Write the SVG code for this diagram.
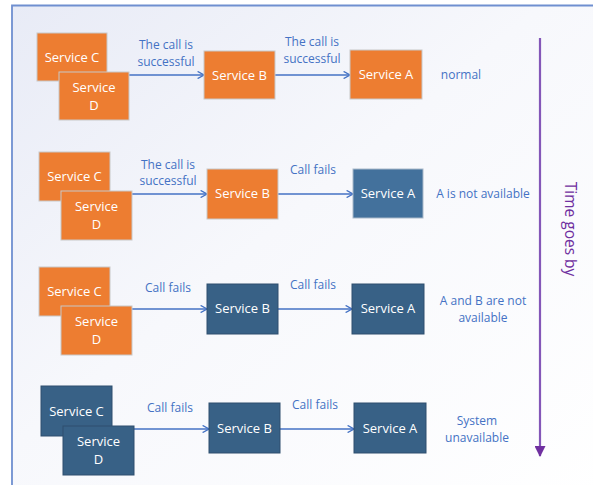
<svg xmlns="http://www.w3.org/2000/svg" width="593" height="485" viewBox="0 0 593 485">
  <defs>
    <linearGradient id="bg" x1="0" y1="0" x2="1" y2="1">
      <stop offset="0" stop-color="#e8ebf6"/>
      <stop offset="0.45" stop-color="#f7f8fc"/>
      <stop offset="1" stop-color="#ffffff"/>
    </linearGradient>
    <marker id="chev" viewBox="0 0 10 10" refX="9" refY="5" markerWidth="8" markerHeight="8" markerUnits="userSpaceOnUse" orient="auto">
      <path d="M1,0.5 L9,5 L1,9.5" fill="none" stroke="#4472c4" stroke-width="1.6"/>
    </marker>
    <marker id="tri" viewBox="0 0 10 10" refX="9" refY="5" markerWidth="16" markerHeight="11" markerUnits="userSpaceOnUse" orient="auto">
      <path d="M0,0 L10,5 L0,10 Z" fill="#7030a0"/>
    </marker>
  </defs>
  <style>
    .box rect { stroke: #c8c8c8; stroke-width: 1; }
    .up rect { fill: #ed7d31; }
    .down rect { fill: #386186; stroke: #2e4f6e; }
    .downl rect { fill: #43719c; stroke: #a9b9c9; }
    .box text { fill: #ffffff; font-family: "Open Sans", "Liberation Sans", sans-serif; font-size: 13px; text-anchor: middle; }
    .lbl { fill: #4472c4; font-family: "Open Sans", "Liberation Sans", sans-serif; font-size: 12px; text-anchor: middle; }
    .conn line { stroke: #4472c4; stroke-width: 1.5; marker-end: url(#chev); }
  </style>

  <!-- frame -->
  <rect x="12" y="5.5" width="590" height="490" fill="url(#bg)"/>
  <path d="M12,485 L12,5.5 L593,5.5" fill="none" stroke="#6f8fd0" stroke-width="1.8"/>

  <!-- time axis -->
  <g id="timeline">
    <line x1="540" y1="38" x2="540" y2="456" stroke="#8457b8" stroke-width="2.2" marker-end="url(#tri)"/>
    <text transform="translate(565,229) rotate(90)" fill="#7030a0" font-family="Open Sans, Liberation Sans, sans-serif" font-size="15.5" text-anchor="middle">Time goes by</text>
  </g>

  <!-- connectors -->
  <g id="connectors" class="conn">
    <line x1="129" y1="75" x2="204" y2="75"/>
    <line x1="275" y1="75" x2="350" y2="75"/>
    <line x1="132" y1="194" x2="207" y2="194"/>
    <line x1="278" y1="194" x2="353" y2="194"/>
    <line x1="132" y1="309" x2="207" y2="309"/>
    <line x1="278" y1="309" x2="352" y2="309"/>
    <line x1="134" y1="429" x2="209" y2="429"/>
    <line x1="280" y1="429" x2="354" y2="429"/>
  </g>

  <!-- row 1: normal -->
  <g id="r1-c" class="box up"><rect x="37" y="33" width="70" height="48"/><text x="72" y="62">Service C</text></g>
  <g id="r1-d" class="box up"><rect x="59" y="72" width="70" height="48"/><text x="94" y="92">Service</text><text x="94" y="110">D</text></g>
  <g id="r1-b" class="box up"><rect x="204" y="51" width="71" height="48"/><text x="239.5" y="80">Service B</text></g>
  <g id="r1-a" class="box up"><rect x="350" y="50" width="72" height="49"/><text x="386" y="79">Service A</text></g>
  <g id="r1-labels">
    <text class="lbl" x="166" y="49">The call is</text>
    <text class="lbl" x="166" y="66">successful</text>
    <text class="lbl" x="312" y="46">The call is</text>
    <text class="lbl" x="312" y="63">successful</text>
    <text class="lbl" x="461" y="79">normal</text>
  </g>

  <!-- row 2: A is not available -->
  <g id="r2-c" class="box up"><rect x="39" y="152" width="71" height="49"/><text x="74.5" y="181">Service C</text></g>
  <g id="r2-d" class="box up"><rect x="61" y="191" width="71" height="49"/><text x="96.5" y="211">Service</text><text x="96.5" y="229">D</text></g>
  <g id="r2-b" class="box up"><rect x="207" y="169" width="71" height="50"/><text x="242.5" y="198">Service B</text></g>
  <g id="r2-a" class="box downl"><rect x="353" y="169" width="70" height="49"/><text x="388" y="198">Service A</text></g>
  <g id="r2-labels">
    <text class="lbl" x="168" y="169">The call is</text>
    <text class="lbl" x="168" y="185">successful</text>
    <text class="lbl" x="313" y="174">Call fails</text>
    <text class="lbl" x="483" y="198">A is not available</text>
  </g>

  <!-- row 3: A and B are not available -->
  <g id="r3-c" class="box up"><rect x="39" y="267" width="71" height="49"/><text x="74.5" y="296">Service C</text></g>
  <g id="r3-d" class="box up"><rect x="61" y="306" width="71" height="49"/><text x="96.5" y="326">Service</text><text x="96.5" y="344">D</text></g>
  <g id="r3-b" class="box down"><rect x="207" y="284" width="71" height="50"/><text x="242.5" y="313">Service B</text></g>
  <g id="r3-a" class="box down"><rect x="352" y="284" width="72" height="50"/><text x="388" y="313">Service A</text></g>
  <g id="r3-labels">
    <text class="lbl" x="168" y="292">Call fails</text>
    <text class="lbl" x="313" y="289">Call fails</text>
    <text class="lbl" x="483" y="305">A and B are not</text>
    <text class="lbl" x="483" y="322">available</text>
  </g>

  <!-- row 4: system unavailable -->
  <g id="r4-c" class="box down"><rect x="41" y="386" width="71" height="50"/><text x="76.5" y="416">Service C</text></g>
  <g id="r4-d" class="box down"><rect x="63" y="426" width="71" height="49"/><text x="98.5" y="446">Service</text><text x="98.5" y="464">D</text></g>
  <g id="r4-b" class="box down"><rect x="209" y="403" width="71" height="50"/><text x="244.5" y="433">Service B</text></g>
  <g id="r4-a" class="box down"><rect x="354" y="403" width="72" height="50"/><text x="390" y="433">Service A</text></g>
  <g id="r4-labels">
    <text class="lbl" x="170" y="412">Call fails</text>
    <text class="lbl" x="315" y="409">Call fails</text>
    <text class="lbl" x="477" y="425">System</text>
    <text class="lbl" x="477" y="442">unavailable</text>
  </g>
</svg>
